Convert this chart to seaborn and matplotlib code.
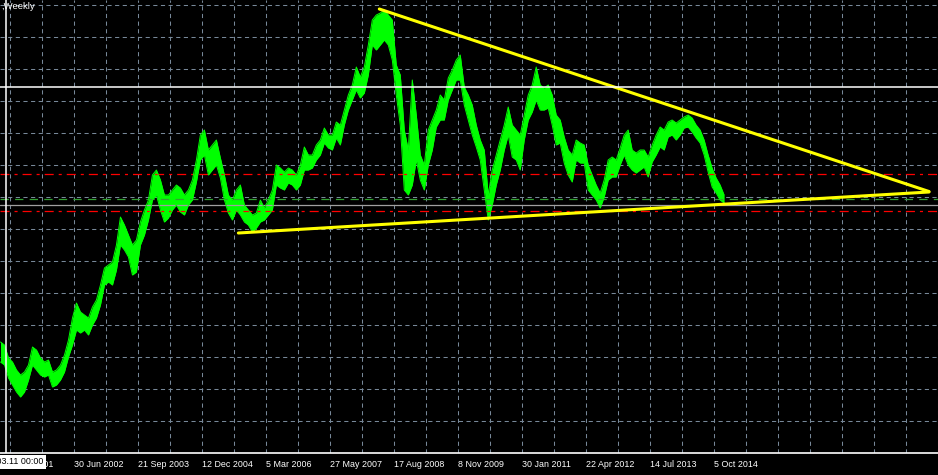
import numpy as np
import pandas as pd
import matplotlib
matplotlib.use('Agg')
import matplotlib.pyplot as plt
import seaborn as sns

# weekly bars, one value every 4 weeks (high / low of the band)
start = '2001-01-28'
high = [65.8, 65.5, 64.2, 63.8, 63.0, 62.5, 62.8, 63.5, 65.3, 65.0,
        64.2, 63.8, 64.0, 62.8, 63.0, 63.5, 64.5, 66.0, 68.2, 69.7,
        68.8, 68.5, 68.2, 69.3, 70.0, 71.5, 73.2, 73.5, 73.8, 75.5,
        78.3, 77.5, 76.5, 75.5, 76.0, 77.8, 79.0, 80.0, 82.5, 83.0,
        82.0, 80.5, 80.5, 81.0, 81.5, 81.2, 80.5, 81.0, 82.0, 84.0,
        86.5, 87.0, 85.0, 85.5, 86.0, 84.2, 82.5, 80.5, 80.0, 81.0,
        81.5, 79.5, 79.0, 78.5, 78.7, 80.0, 79.2, 80.0, 81.0, 83.5,
        83.2, 82.8, 83.2, 83.0, 82.5, 83.5, 85.3, 84.5, 84.5, 85.5,
        86.0, 87.2, 86.5, 86.5, 87.8, 87.5, 89.0, 90.5, 91.5, 93.3,
        92.3, 93.3, 95.5, 98.0, 98.5, 98.7, 99.0, 98.5, 98.0, 93.5,
        92.5, 87.0, 85.0, 92.0, 88.5, 84.5, 83.5, 87.0, 88.0, 89.0,
        90.5, 90.0, 92.2, 93.0, 94.0, 94.5, 91.3, 90.5, 89.5, 87.5,
        86.0, 85.0, 80.5, 83.0, 84.5, 86.0, 87.5, 89.3, 87.5, 87.0,
        86.5, 88.5, 90.5, 91.5, 93.3, 91.5, 91.2, 91.5, 90.5, 88.5,
        88.0, 86.3, 85.0, 84.5, 86.0, 85.7, 85.5, 83.5, 82.5, 81.5,
        80.7, 82.0, 84.0, 84.3, 84.0, 85.2, 86.5, 87.0, 85.0, 84.7,
        85.0, 85.0, 84.3, 85.5, 86.5, 87.3, 87.0, 87.8, 88.0, 87.7,
        88.0, 88.3, 88.5, 88.2, 87.5, 87.0, 86.0, 84.5, 83.2, 82.2,
        81.5, 80.5]
low = [63.8, 63.5, 62.2, 61.5, 60.8, 60.3, 60.8, 62.0, 63.5, 63.0,
       62.5, 62.3, 62.5, 61.3, 61.5, 62.0, 62.8, 64.3, 65.5, 67.0,
       66.7, 67.0, 66.5, 67.5, 68.2, 69.5, 71.5, 71.8, 71.5, 73.0,
       75.5, 75.0, 74.3, 72.5, 72.8, 75.5, 76.5, 78.0, 80.0, 80.5,
       79.0, 77.8, 78.2, 79.0, 79.5, 78.8, 78.5, 79.5, 80.0, 81.8,
       84.0, 84.5, 82.5, 83.0, 83.5, 82.2, 80.0, 78.7, 78.0, 79.0,
       78.5, 77.8, 77.5, 76.8, 77.2, 77.8, 78.0, 78.5, 79.0, 81.5,
       81.2, 81.0, 81.7, 81.5, 81.0, 81.5, 83.0, 83.0, 83.2, 84.0,
       84.5, 85.7, 85.2, 85.0, 86.2, 85.5, 87.5, 89.0, 90.0, 91.0,
       90.2, 90.7, 92.5, 95.5, 95.0, 95.5, 96.0, 95.5, 94.0, 90.5,
       87.5, 81.0, 80.5, 81.5, 84.0, 82.0, 81.0, 83.5, 85.0, 87.3,
       88.0, 88.0, 90.0, 91.0, 92.0, 92.0, 89.5, 88.0, 86.5, 85.3,
       84.0, 81.0, 78.0, 79.5, 81.5, 83.0, 85.0, 86.5, 84.3, 84.0,
       83.0, 86.0, 88.0, 88.8, 90.0, 89.0, 89.0, 89.2, 87.5, 85.5,
       85.7, 83.7, 82.5, 81.8, 84.0, 83.7, 83.7, 81.0, 80.5, 80.0,
       79.2, 80.3, 82.0, 82.3, 82.3, 83.5, 84.5, 83.5, 83.0, 82.7,
       83.0, 83.3, 82.3, 83.8, 84.5, 85.3, 85.0, 86.3, 86.5, 86.0,
       86.5, 87.2, 87.3, 86.8, 86.2, 85.7, 84.5, 82.8, 81.3, 80.7,
       80.0, 79.7]

tick_labels = ['8 Apr 2001', '30 Jun 2002', '21 Sep 2003', '12 Dec 2004',
               '5 Mar 2006', '27 May 2007', '17 Aug 2008', '8 Nov 2009',
               '30 Jan 2011', '22 Apr 2012', '14 Jul 2013', '5 Oct 2014']

upper_dates = ['2008-05-04', '2018-11-18']
upper_prices = [99.1, 80.85]
lower_dates = ['2005-08-21', '2018-11-18']
lower_prices = [76.7, 80.8]
red_levels = [82.6, 78.9]
green_level = 80.1
grey_level = 79.5
cross_date = '2001-03-11'
cross_price = 91.3
cross_label = '2001.03.11 00:00'

dates = pd.date_range(start, periods=len(high), freq='28D')
df = pd.DataFrame({'date': dates, 'high': high, 'low': low})
long_df = df.melt('date', var_name='side', value_name='price')

sns.set_theme(style='dark', rc={'axes.facecolor': 'black',
                                'figure.facecolor': 'black',
                                'savefig.facecolor': 'black'})
plt.rcParams['font.family'] = ['Liberation Sans', 'DejaVu Sans']
plt.rcParams['lines.scale_dashes'] = False

fig = plt.figure(figsize=(9.38, 4.75), dpi=100)
ax = fig.add_axes([0, 22 / 475, 1, 453 / 475])

t0 = pd.Timestamp(start)
ax.set_xlim(t0 - pd.Timedelta(days=3.5), t0 + pd.Timedelta(days=7 * 937.5))
ax.set_ylim(54.7, 100)

# grid every 32 bars / 3.2 price units, MT4 style
major = pd.to_datetime(tick_labels, format='%d %b %Y')
minor = pd.date_range(major[0], t0 + pd.Timedelta(weeks=938), freq='224D')
ax.set_xticks(major, tick_labels)
ax.set_xticks(minor, minor=True)
ax.set_yticks(np.arange(57.9, 99.6, 3.2))
ax.grid(which='both', axis='both', color='#778899', lw=0.75, ls=(0, (3, 2.5)))
ax.set_axisbelow(True)

ax.tick_params(axis='x', which='major', direction='out', length=3.5, width=0.8,
               color='white', labelcolor='white', labelsize=6.4, pad=1.5)
ax.tick_params(axis='x', which='minor', length=0)
ax.tick_params(axis='y', length=0, labelleft=False)
for lab in ax.get_xticklabels():
    lab.set_horizontalalignment('left')

for side in ['top', 'right', 'left']:
    ax.spines[side].set_visible(False)
ax.spines['bottom'].set_color('white')
ax.spines['bottom'].set_linewidth(1.2)

# horizontal levels
for lvl in red_levels:
    ax.axhline(lvl, color='#ff0000', lw=0.9, ls=(0, (6.5, 3.6, 2.2, 3.6)))
ax.axhline(green_level, color='#32a032', lw=0.9, ls=(0, (6, 4.5)))
ax.axhline(grey_level, color='#a0a0a0', lw=0.9)

# price band
ax.fill_between(df['date'], df['low'], df['high'], color='#00ff00', lw=0)
sns.lineplot(data=long_df, x='date', y='price', hue='side',
             palette=['#00ff00', '#00ff00'], lw=0.7, legend=False, ax=ax)

# trendlines
ax.plot(pd.to_datetime(upper_dates), upper_prices, color='#ffff00', lw=2.2)
ax.plot(pd.to_datetime(lower_dates), lower_prices, color='#ffff00', lw=2.2)

# crosshair
ax.axhline(cross_price, color='white', lw=1.1)
ax.axvline(pd.Timestamp(cross_date), color='white', lw=1.1)

ax.set_xlabel('')
ax.set_ylabel('')

fig.text(43 / 938, 1 - 462 / 475, cross_label, ha='right', va='center',
         color='black', fontsize=6.4,
         bbox=dict(boxstyle='square,pad=0.3', fc='white', ec='none'))
fig.text(1 / 938, 1 - 2 / 475, ',Weekly', ha='left', va='top',
         color='white', fontsize=6.8)

fig.savefig('out.png', dpi=100)
